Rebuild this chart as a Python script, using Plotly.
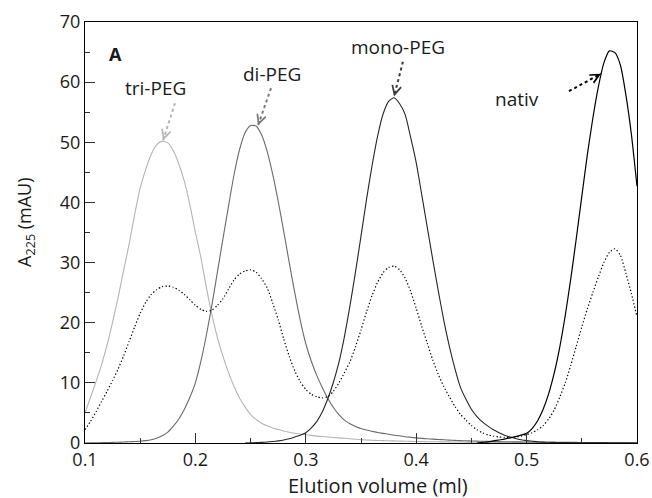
import plotly.graph_objects as go

# Elution volume grid (ml)
elution_ml = [0.100, 0.105, 0.110, 0.115, 0.120, 0.125, 0.130, 0.135, 0.140, 0.145,
              0.150, 0.155, 0.160, 0.165, 0.170, 0.175, 0.180, 0.185, 0.190, 0.195,
              0.200, 0.205, 0.210, 0.215, 0.220, 0.225, 0.230, 0.235, 0.240, 0.245,
              0.250, 0.255, 0.260, 0.265, 0.270, 0.275, 0.280, 0.285, 0.290, 0.295,
              0.300, 0.305, 0.310, 0.315, 0.320, 0.325, 0.330, 0.335, 0.340, 0.345,
              0.350, 0.355, 0.360, 0.365, 0.370, 0.375, 0.380, 0.385, 0.390, 0.395,
              0.400, 0.405, 0.410, 0.415, 0.420, 0.425, 0.430, 0.435, 0.440, 0.445,
              0.450, 0.455, 0.460, 0.465, 0.470, 0.475, 0.480, 0.485, 0.490, 0.495,
              0.500, 0.505, 0.510, 0.515, 0.520, 0.525, 0.530, 0.535, 0.540, 0.545,
              0.550, 0.555, 0.560, 0.565, 0.570, 0.575, 0.580, 0.585, 0.590, 0.595,
              0.600]

# A225 (mAU)
tri_peg = [5.0, 7.6, 10.2, 13.0, 16.3, 20.1, 24.2, 28.7, 33.1, 38.0,
           42.4, 45.5, 48.0, 49.6, 50.2, 49.9, 48.6, 46.4, 43.5, 39.6,
           35.0, 30.8, 25.8, 21.3, 17.5, 14.4, 11.7, 9.4, 7.5, 6.0,
           4.7, 3.9, 3.3, 2.85, 2.5, 2.25, 2.0, 1.8, 1.62, 1.5,
           1.4, 1.27, 1.15, 1.07, 1.0, 0.92, 0.85, 0.78, 0.7, 0.62,
           0.55, 0.5, 0.45, 0.42, 0.4, 0.37, 0.35, 0.32, 0.3, 0.27,
           0.25, 0.24, 0.22, 0.21, 0.2, 0.19, 0.18, 0.17, 0.16, 0.15,
           0.14, 0.13, 0.12, 0.11, 0.1, 0.095, 0.09, 0.085, 0.08, 0.075,
           0.07, 0.065, 0.06, 0.055, 0.05, 0.05, 0.05, 0.045, 0.04, 0.04,
           0.04, 0.035, 0.03, 0.03, 0.03, 0.03, 0.03, 0.025, 0.02, 0.02,
           0.02]

di_peg = [0.0, 0.02, 0.04, 0.06, 0.08, 0.1, 0.13, 0.16, 0.2, 0.25,
          0.3, 0.4, 0.55, 0.8, 1.2, 1.8, 2.8, 4.0, 5.6, 7.6,
          10.0, 13.6, 18.0, 23.0, 28.5, 34.0, 39.4, 44.6, 48.8, 51.6,
          52.8, 52.7, 51.2, 48.5, 44.7, 40.2, 35.2, 30.0, 25.0, 20.4,
          16.5, 13.6, 11.2, 9.2, 7.4, 5.9, 4.7, 3.8, 3.2, 2.75,
          2.4, 2.15, 1.95, 1.75, 1.6, 1.45, 1.3, 1.2, 1.05, 0.95,
          0.85, 0.77, 0.7, 0.64, 0.58, 0.53, 0.48, 0.44, 0.4, 0.37,
          0.34, 0.31, 0.29, 0.27, 0.25, 0.23, 0.21, 0.2, 0.19, 0.18,
          0.17, 0.16, 0.15, 0.14, 0.13, 0.12, 0.12, 0.11, 0.1, 0.1,
          0.09, 0.09, 0.08, 0.08, 0.07, 0.07, 0.06, 0.06, 0.06, 0.05,
          0.05]

mono_peg = [None, None, None, None, None, None, None, None, None, None,
            None, None, None, None, None, None, None, None, None, None,
            None, None, None, None, None, None, None, None, None, 0.0,
            0.03, 0.06, 0.1, 0.16, 0.25, 0.36, 0.5, 0.7, 1.0, 1.3,
            1.7, 2.5, 3.6, 5.2, 7.4, 10.1, 13.4, 17.7, 22.8, 28.4,
            34.4, 40.5, 46.1, 51.0, 54.7, 56.8, 57.4, 56.4, 54.6, 50.8,
            46.6, 41.3, 35.9, 30.5, 25.3, 20.4, 16.1, 12.4, 9.3, 7.3,
            5.6, 4.4, 3.5, 2.8, 2.2, 1.7, 1.3, 1.0, 0.75, 0.55,
            0.4, 0.3, 0.2, 0.15, 0.12, 0.1, 0.08, 0.06, 0.05, 0.04,
            0.03, 0.03, 0.02, 0.02, 0.02, 0.01, 0.01, 0.01, 0.01, 0.01,
            0.01]

nativ = [None, None, None, None, None, None, None, None, None, None,
         None, None, None, None, None, None, None, None, None, None,
         None, None, None, None, None, None, None, None, None, None,
         None, None, None, None, None, None, None, None, None, None,
         None, None, None, None, None, None, None, None, None, None,
         None, None, None, None, None, None, None, None, None, None,
         None, None, None, None, None, None, None, None, None, None,
         None, 0.0, 0.1, 0.2, 0.35, 0.5, 0.65, 0.85, 1.05, 1.3,
         1.6, 2.4, 3.7, 5.6, 8.2, 11.6, 15.9, 21.2, 27.3, 34.0,
         41.0, 47.9, 54.0, 59.2, 63.2, 65.2, 64.9, 62.8, 57.8, 51.2,
         42.7]

mixture = [2.2, 3.6, 5.2, 6.9, 8.6, 10.4, 12.3, 14.5, 16.9, 19.3,
           21.6, 23.4, 24.7, 25.5, 26.0, 26.1, 25.9, 25.4, 24.7, 23.8,
           22.9, 22.2, 21.9, 22.1, 22.9, 24.0, 25.6, 27.1, 28.1, 28.6,
           28.8, 28.4, 27.3, 25.8, 23.3, 20.5, 17.3, 14.4, 12.0, 10.2,
           8.9, 8.1, 7.7, 7.5, 7.7, 8.6, 10.0, 11.7, 13.5, 16.0,
           18.8, 21.8, 24.5, 26.7, 28.3, 29.2, 29.4, 28.8, 27.4, 25.2,
           22.4, 19.4, 16.6, 13.8, 11.4, 9.4, 7.7, 6.1, 4.8, 3.8,
           2.9, 2.2, 1.7, 1.35, 1.15, 1.0, 0.95, 0.95, 1.0, 1.15,
           1.4, 1.7, 2.2, 2.9, 4.0, 5.5, 7.6, 10.0, 12.9, 16.1,
           19.3, 22.3, 25.0, 27.6, 30.0, 31.7, 32.3, 31.2, 28.2, 24.8,
           21.0]

x_ticks = [0.1, 0.2, 0.3, 0.4, 0.5, 0.6]
x_ticktext = ["0.1", "0.2", "0.3", "0.4", "0.5", "0.6"]
y_ticks = [0, 10, 20, 30, 40, 50, 60, 70]

# label text, label position, arrow start, arrow tip, colour
labels = [
    ("tri-PEG", (0.1643, 59.0), (0.1815, 56.5), (0.1707, 50.3), "#b4b4b4"),
    ("di-PEG", (0.2698, 61.4), (0.2685, 59.0), (0.2567, 52.8), "#7a7a7a"),
    ("mono-PEG", (0.3835, 65.8), (0.3880, 63.4), (0.3799, 57.6), "#3a3a3a"),
    ("nativ", (0.4914, 57.2), (0.5384, 58.5), (0.5674, 61.4), "#000000"),
]

FONT = "Open Sans"
TXT = "#1a1a1a"

fig = go.Figure()
series = [
    (tri_peg, "#b4b4b4", "solid", 1.1),
    (di_peg, "#6a6a6a", "solid", 1.1),
    (mono_peg, "#262626", "solid", 1.1),
    (nativ, "#000000", "solid", 1.2),
    (mixture, "#000000", "1.3px,2.2px", 1.2),
]
for ys, col, dash, w in series:
    fig.add_trace(go.Scatter(x=elution_ml, y=ys, mode="lines",
                             line=dict(color=col, width=w, dash=dash,
                                       shape="spline", smoothing=0.6),
                             connectgaps=False, hoverinfo="skip"))

shapes = []
annotations = []
for text, (tx, ty), (sx, sy), (ex, ey), col in labels:
    annotations.append(dict(x=tx, y=ty, xref="x", yref="y", text=text,
                            showarrow=False, font=dict(family=FONT, size=19, color=TXT)))
    shapes.append(dict(type="line", xref="x", yref="y", x0=sx, y0=sy, x1=ex, y1=ey,
                       line=dict(color=col, width=2, dash="dot")))
    annotations.append(dict(x=ex, y=ey, xref="x", yref="y",
                            ax=ex - 0.15 * (ex - sx), ay=ey - 0.15 * (ey - sy),
                            axref="x", ayref="y", text="", showarrow=True,
                            arrowhead=5, arrowsize=1.1, arrowwidth=1.6,
                            arrowcolor=col, standoff=0))

annotations.append(dict(x=0.1272, y=64.7, xref="x", yref="y", text="<b>A</b>",
                        showarrow=False, font=dict(family=FONT, size=18, color=TXT)))
annotations.append(dict(x=0.365, y=-0.102, xref="x", yref="paper",
                        text="Elution volume (ml)", showarrow=False, yanchor="middle",
                        font=dict(family=FONT, size=20, color=TXT)))
annotations.append(dict(x=-0.107, y=0.525, xref="paper", yref="paper",
                        text="A<sub>225</sub> (mAU)", textangle=-90, showarrow=False,
                        xanchor="center", yanchor="middle",
                        font=dict(family=FONT, size=18, color=TXT)))

fig.update_layout(
    width=652, height=498,
    margin=dict(l=85, r=15, t=22, b=55),
    plot_bgcolor="white", paper_bgcolor="white",
    showlegend=False,
    font=dict(family=FONT, size=18, color=TXT),
    shapes=shapes, annotations=annotations,
    xaxis=dict(range=[0.1, 0.6], tickvals=x_ticks, ticktext=x_ticktext,
               automargin=False,
               ticks="inside", ticklen=10, tickwidth=1, tickcolor="#333333",
               showline=True, linecolor="#000000", linewidth=1.2, mirror=True,
               showgrid=False, zeroline=False,
               minor=dict(dtick=0.05, ticks="inside", ticklen=5, tickcolor="#333333", showgrid=False),
               tickfont=dict(family=FONT, size=18, color=TXT)),
    yaxis=dict(range=[0, 70], tickvals=y_ticks, automargin=False,
               ticks="inside", ticklen=10, tickwidth=1, tickcolor="#333333",
               showline=True, linecolor="#000000", linewidth=1.2, mirror=True,
               showgrid=False, zeroline=False,
               minor=dict(dtick=5, ticks="inside", ticklen=5, tickcolor="#333333", showgrid=False),
               tickfont=dict(family=FONT, size=18, color=TXT)),
)

fig.write_html("out.html")
